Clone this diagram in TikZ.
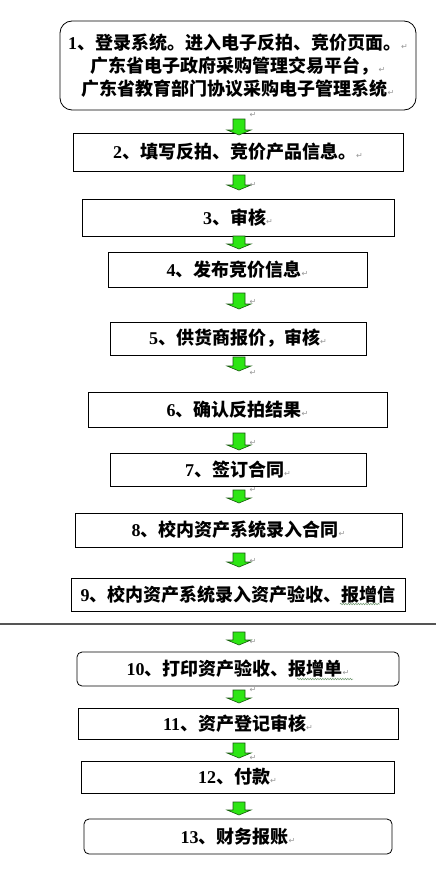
\documentclass[tikz,border=0pt]{standalone}
\usepackage{fontspec}
\newfontfamily\cjk{Noto Sans CJK SC}
\newfontfamily\dgf{Liberation Serif}
\newfontfamily\djv{DejaVu Sans}
\usetikzlibrary{decorations.pathmorphing}
\definecolor{agreen}{RGB}{45,230,20}
\definecolor{aedge}{RGB}{25,90,15}
\definecolor{pmgray}{RGB}{150,150,150}
\definecolor{wavy}{RGB}{110,150,110}
\newcommand\dg[1]{{\dgf\bfseries #1}}
\newcommand\pmk{{\djv\mdseries\fontsize{8}{8}\selectfont\color{pmgray}↵}}
\newcommand\garrow[3]{%
  \filldraw[arrowstyle] ({#1-6},{#2}) -- ({#1+6},{#2}) -- ({#1+6},{#3-5}) -- ({#1+12},{#3-5})
    -- ({#1},{#3}) -- ({#1-12},{#3-5}) -- ({#1-6},{#3-5}) -- cycle;}
\begin{document}
\begin{tikzpicture}[x=1pt,y=-1pt,
  box/.style={draw=black, line width=0.8pt, inner sep=0pt, align=center,
    font=\cjk\bfseries\fontsize{18}{23}\selectfont},
  arrowstyle/.style={fill=agreen, draw=aedge, line width=0.6pt},
  mark/.append style={},
  pm/.style={inner sep=0pt, font=\djv\fontsize{8}{8}\selectfont, text=pmgray},
  wave/.style={draw=wavy, line width=0.5pt, decorate,
    decoration={snake, segment length=2.5pt, amplitude=0.7pt}}]
\useasboundingbox (0,0) rectangle (436,875);
\fill[white] (0,0) rectangle (436,875);

\node[box, minimum width=356pt, minimum height=89pt, rounded corners=12pt] (b1) at (238,65.5)
  {\dg{1}、登录系统。进入电子反拍、竞价页面。\pmk\\
   广东省电子政府采购管理交易平台，\pmk\\
   广东省教育部门协议采购电子管理系统\pmk};
\node[box, minimum width=330pt, minimum height=38pt] (b2) at (238,152) {\dg{2}、填写反拍、竞价产品信息。\pmk};
\node[box, minimum width=312pt, minimum height=37pt] (b3) at (238,217.5) {\dg{3}、审核\pmk};
\node[box, minimum width=259pt, minimum height=35pt] (b4) at (237.5,269.5) {\dg{4}、发布竞价信息\pmk};
\node[box, minimum width=256pt, minimum height=33pt] (b5) at (238,338.5) {\dg{5}、供货商报价，审核\pmk};
\node[box, minimum width=299pt, minimum height=35pt] (b6) at (237.5,409.5) {\dg{6}、确认反拍结果\pmk};
\node[box, minimum width=256pt, minimum height=33pt] (b7) at (238,469.5) {\dg{7}、签订合同\pmk};
\node[box, minimum width=327pt, minimum height=34pt] (b8) at (238.5,530) {\dg{8}、校内资产系统录入合同\pmk};
\node[box, minimum width=334pt, minimum height=33pt] (b9) at (238,594.5) {\dg{9}、校内资产系统录入资产验收、报增信};
\node[box, minimum width=322pt, minimum height=34pt, rounded corners=5pt] (b10) at (238,669) {\dg{10}、打印资产验收、报增单\pmk};
\node[box, minimum width=320pt, minimum height=31pt] (b11) at (238,723.5) {\dg{11}、资产登记审核\pmk};
\node[box, minimum width=313pt, minimum height=32pt] (b12) at (237.5,777) {\dg{12}、付款\pmk};
\node[box, minimum width=308pt, minimum height=35pt, rounded corners=5pt] (b13) at (238,836.5) {\dg{13}、财务报账\pmk};

% separator line
\coordinate (sl) at (0,624);
\coordinate (sr) at (436,624);
\draw[line width=2pt, draw={rgb,255:red,85;green,85;blue,85}] (sl) -- (sr);

% green block arrows
\garrow{239}{119}{135}
\garrow{239}{175}{190}
\garrow{239}{236}{249}
\garrow{239}{293}{309}
\garrow{239}{357}{371}
\garrow{239}{433}{450}
\garrow{239}{490}{503}
\garrow{239}{553}{567}
\garrow{239}{632}{645}
\garrow{239}{690}{703}
\garrow{239}{743}{758}
\garrow{239}{802}{815}

% stray paragraph marks
\node[pm] (m1) at (253,115) {↵};
\node[pm] (m2) at (253,185) {↵};
\node[pm] (m3) at (253,302) {↵};
\node[pm] (m4) at (253,373) {↵};
\node[pm] (m5) at (253,443) {↵};
\node[pm] (m6) at (253,490) {↵};
\node[pm] (m7) at (253,561) {↵};
\node[pm] (m8) at (253,642) {↵};
\node[pm] (m9) at (253,690) {↵};
\node[pm] (m10) at (253,758) {↵};

% spell-check wavy underlines
\coordinate (w1a) at (340,604); \coordinate (w1b) at (380,604);
\coordinate (w2a) at (297,679); \coordinate (w2b) at (353,679);
\draw[wave] (w1a) -- (w1b);
\draw[wave] (w2a) -- (w2b);
\end{tikzpicture}
\end{document}
